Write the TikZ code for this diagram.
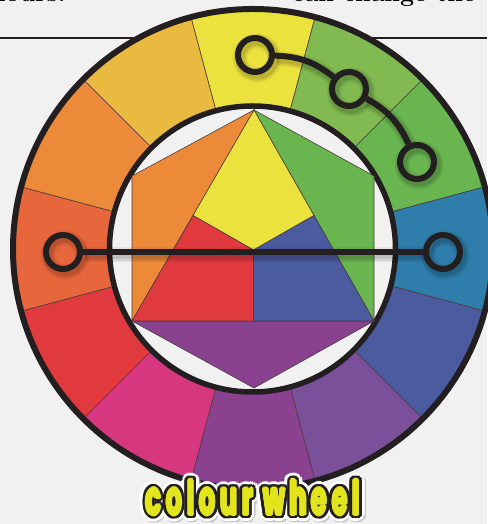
\documentclass[tikz,border=0pt]{standalone}
\usepackage{fontspec}
\newfontfamily\labfont{Poppins}[LetterSpace=20]
\usetikzlibrary{calc}
\definecolor{bgc}{HTML}{F1F1F1}
\definecolor{ink}{HTML}{231F20}
\definecolor{segline}{HTML}{4A3C3C}
\definecolor{sY}{HTML}{EBE23E}
\definecolor{sYG}{HTML}{80BA51}
\definecolor{sG}{HTML}{69B550}
\definecolor{sB}{HTML}{2F7DAB}
\definecolor{sBV}{HTML}{4A5BA0}
\definecolor{sV}{HTML}{7A509A}
\definecolor{sP}{HTML}{8A4190}
\definecolor{sM}{HTML}{D7377F}
\definecolor{sR}{HTML}{E03A3F}
\definecolor{sRO}{HTML}{E8663B}
\definecolor{sO}{HTML}{ED8A3A}
\definecolor{sYO}{HTML}{EAB93F}
\definecolor{labY}{HTML}{E2E51C}
\pgfdeclarelayer{wheel}
\pgfdeclarelayer{shad}
\pgfsetlayers{wheel,shad,main}
\tikzset{
  ring/.style={circle, draw=ink, line width=6pt, minimum size=34pt, inner sep=0pt},
  conn/.style={draw=ink, line width=6pt},
  piece/.style={draw=segline, line width=0.6pt},
  shadowln/.style={draw=black, opacity=#1, transform canvas={shift={(2pt,-3pt)}}},
  toptext/.style={font=\fontsize{25}{30}\selectfont\bfseries, inner sep=0pt, text=black},
  labcopy/.style={anchor=base, inner sep=0pt},
}
\newcommand{\labtext}{\scalebox{0.5}[0.95]{\fontsize{50}{60}\selectfont\labfont\bfseries colour wheel}}
\begin{document}
\begin{tikzpicture}[x=1pt,y=1pt]
\useasboundingbox (0,0) rectangle (487,524);
\begin{pgfonlayer}{wheel}
\fill[bgc] (0,0) rectangle (487,524);
\node[toptext, anchor=base east] (txtL) at (66,522) {colours.};
\node[toptext, anchor=base west] (txtR) at (292,522) {can change the};
\coordinate (hlA) at (0,485.7);
\coordinate (hlB) at (487,485.7);
\draw[ink, line width=2pt] (hlA) -- (hlB);
\begin{scope}[shift={(253,275)}]
\foreach \a/\c in {90/sY,60/sYG,30/sG,0/sB,-30/sBV,-60/sV,-90/sP,-120/sM,-150/sR,180/sRO,150/sO,120/sYO}{
  \filldraw[fill=\c, piece] (\a-15:143) -- (\a-15:240) arc[start angle=\a-15, end angle=\a+15, radius=240] -- (\a+15:143) arc[start angle=\a+15, end angle=\a-15, radius=143] -- cycle;
}
\draw[ink, line width=6pt] (0,0) circle[radius=240];
\filldraw[fill=bgc, draw=ink, line width=5.5pt] (-0.5,0) circle[radius=143];
\end{scope}
\coordinate (apex) at (254,414);
\coordinate (UL) at (132,348);
\coordinate (LL) at (132,203);
\coordinate (bot) at (254,136);
\coordinate (LR) at (374,203);
\coordinate (UR) at (374,348);
\coordinate (mL) at (193,308.5);
\coordinate (mR) at (314,308.5);
\coordinate (cen) at (253.5,274);
\coordinate (mB) at (253.5,203);
\filldraw[fill=sO, piece] (apex) -- (UL) -- (LL) -- cycle;
\filldraw[fill=sG, piece] (apex) -- (UR) -- (LR) -- cycle;
\filldraw[fill=sP, piece] (LL) -- (bot) -- (LR) -- cycle;
\filldraw[fill=sY, piece] (apex) -- (mL) -- (cen) -- (mR) -- cycle;
\filldraw[fill=sR, piece] (mL) -- (cen) -- (mB) -- (LL) -- cycle;
\filldraw[fill=sBV, piece] (mR) -- (cen) -- (mB) -- (LR) -- cycle;
\end{pgfonlayer}
% markers
\node[ring] (cL) at (63,272) {};
\node[ring] (cR) at (443,272) {};
\node[ring] (t1) at (255,469) {};
\node[ring] (t2) at (349,435) {};
\node[ring] (t3) at (417,362) {};
\begin{pgfonlayer}{shad}
\foreach \w/\o in {15/0.05,12/0.07,9/0.09}{
  \foreach \n in {cL,cR,t1,t2,t3}{
    \draw[shadowln=\o, line width=\w pt] (\n) circle[radius=17];
  }
  \draw[shadowln=\o, line width=\w pt] (cL) -- (cR);
  \draw[shadowln=\o, line width=\w pt] (t1) to[bend left=18] (t2);
  \draw[shadowln=\o, line width=\w pt] (t2) to[bend left=18] (t3);
}
\end{pgfonlayer}
\draw[conn] (cL) -- (cR);
\draw[conn] (t1) to[bend left=18] (t2);
\draw[conn] (t2) to[bend left=18] (t3);
% label
\coordinate (labpos) at (253,9);
\foreach \ang in {0,20,...,340}{
  \node[labcopy, text=black!25, opacity=0.6] (ls\ang) at ($(labpos)+(1.5,-1.5)+(\ang:6.5)$) {\labtext};
}
\foreach \ang in {0,20,...,340}{
  \node[labcopy, text=white] (lw\ang) at ($(labpos)+(\ang:6.5)$) {\labtext};
}
\foreach \ang in {0,20,...,340}{
  \node[labcopy, text=ink] (lb\ang) at ($(labpos)+(\ang:3.8)$) {\labtext};
}
\foreach \ang in {0,45,...,315}{
  \node[labcopy, text=labY] (ly\ang) at ($(labpos)+(\ang:1.1)$) {\labtext};
}
\node[labcopy, text=labY] (label) at (labpos) {\labtext};
\end{tikzpicture}
\end{document}
